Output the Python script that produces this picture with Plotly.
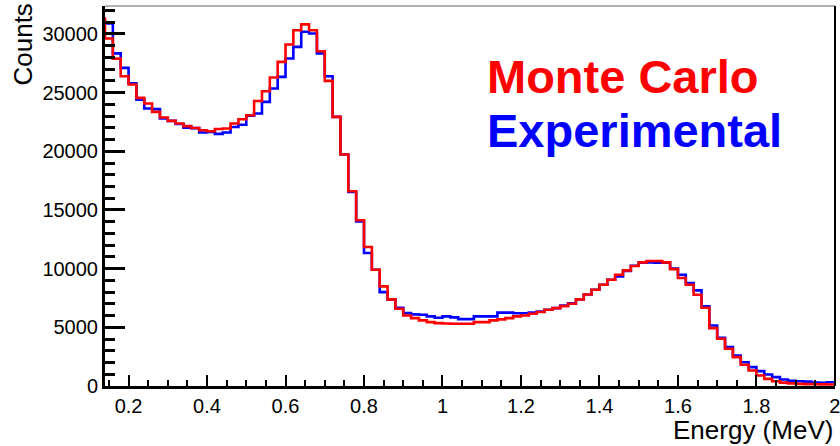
import numpy as np
import plotly.graph_objects as go

# Bin definition: width 0.02 MeV, first (hidden) bin 0.12-0.14, axis shows 0.14-2.0
bin_width = 0.02
bin_edges = np.round(0.12 + bin_width * np.arange(95), 4)

monte_carlo = [
    31300,
    29615, 27900, 26400, 25690, 24550, 24070, 23360, 22880, 22590, 22370,
    22140, 21990, 21790, 21710, 21900, 21940, 22370, 22730, 23070, 24290,
    25120, 26290, 27620, 29100, 30320, 30810, 30320, 28530, 26000, 22930,
    19720, 16600, 14120, 11840, 9910, 8490, 7380, 6580, 6010, 5785,
    5590, 5440, 5360,
    5330, 5300, 5300, 5300, 5445, 5445, 5590, 5680, 5785, 5930,
    6010, 6155, 6300, 6500, 6640, 6810, 7010, 7380, 7800, 8200,
    8630, 9060, 9480, 9850, 10220, 10530, 10650, 10650, 10530, 9960,
    9200, 8630, 7780, 6670, 4930, 4025, 3170, 2460, 1810, 1320,
    895, 610, 410, 290, 220, 180, 160, 150, 140, 130,
]

experimental = [
    31100,
    30900, 28340, 27110, 25800, 24400, 23640, 23590, 22790, 22590, 22320,
    22020, 21970, 21600, 21650, 21480, 21600, 22070, 22260, 23030, 23220,
    24210, 25350, 26340, 27910, 28900, 30180, 30040, 28340, 26400, 22930,
    19720, 16530, 14030, 11330, 9910, 8000, 7380, 6670, 6210, 6100,
    6070, 5930, 5820,
    5930, 5850, 5700, 5700, 5930, 5930, 5930, 6250, 6250, 6200,
    6200, 6250, 6350, 6500, 6640, 6850, 7050, 7380, 7800, 8200,
    8630, 9060, 9340, 9800, 10250, 10500, 10530, 10500, 10500, 10000,
    9480, 8770, 8150, 6800, 5160, 4110, 3310, 2600, 2030, 1610,
    1265, 980, 755, 560, 450, 400, 370, 300, 280, 320,
]

x_tickvals = [0.2, 0.4, 0.6, 0.8, 1.0, 1.2, 1.4, 1.6, 1.8, 2.0]
x_ticktext = ["0.2", "0.4", "0.6", "0.8", "1", "1.2", "1.4", "1.6", "1.8", "2"]
y_tickvals = [0, 5000, 10000, 15000, 20000, 25000, 30000]
y_ticktext = ["0", "5000", "10000", "15000", "20000", "25000", "30000"]

series_names = ["Monte Carlo", "Experimental"]
x_title = "Energy (MeV)"
y_title = "Counts"

FONT = "Liberation Sans, Arial, Helvetica, sans-serif"
RED = "#ff0000"
BLUE = "#0000ff"


def step_xy(vals):
    xs = list(bin_edges)
    ys = list(vals) + [vals[-1]]
    return xs, ys


fig = go.Figure()
xb, yb = step_xy(experimental)
fig.add_trace(go.Scatter(x=xb, y=yb, mode="lines", line=dict(color=BLUE, width=2.6, shape="hv"),
                         name=series_names[1], showlegend=False))
xr, yr = step_xy(monte_carlo)
fig.add_trace(go.Scatter(x=xr, y=yr, mode="lines", line=dict(color=RED, width=2.6, shape="hv"),
                         name=series_names[0], showlegend=False))

fig.update_layout(
    width=840, height=446,
    margin=dict(l=105, r=5, t=6, b=60, autoexpand=False),
    paper_bgcolor="white", plot_bgcolor="white",
    font=dict(family=FONT, color="black", size=20),
    showlegend=False,
)

fig.update_xaxes(
    range=[0.14, 2.0002], showgrid=False, zeroline=False, automargin=False,
    showline=True, linecolor="black", linewidth=3,
    ticks="inside", ticklen=11, tickwidth=2, tickcolor="black",
    tickvals=x_tickvals, ticktext=x_ticktext, ticklabeloverflow="allow",
    tickfont=dict(size=20, family=FONT),
    minor=dict(ticks="inside", ticklen=6, tickwidth=2, tickcolor="black", dtick=0.05, tick0=0, showgrid=False),
)
fig.update_yaxes(
    range=[0, 32380], showgrid=False, zeroline=False, automargin=False,
    showline=True, linecolor="black", linewidth=3,
    ticks="inside", ticklen=20, tickwidth=3, tickcolor="black",
    tickvals=y_tickvals, ticktext=y_ticktext,
    tickfont=dict(size=20, family=FONT),
    minor=dict(ticks="inside", ticklen=10, tickwidth=3, tickcolor="black", dtick=1000, tick0=0, showgrid=False),
)

# frame: thin grey top, black right
fig.add_shape(type="line", xref="paper", yref="paper", x0=0, x1=1, y0=1, y1=1,
              line=dict(color="#999999", width=1.5))
fig.add_shape(type="line", xref="paper", yref="paper", x0=1, x1=1, y0=0, y1=1,
              line=dict(color="black", width=2))

# axis titles
fig.add_annotation(text=x_title, xref="paper", yref="paper", x=1.0, y=-0.115,
                   xanchor="right", yanchor="middle", showarrow=False,
                   font=dict(size=26, family=FONT, color="black"))
fig.add_annotation(text=y_title, xref="paper", yref="paper", x=-0.113, y=1.0,
                   xanchor="center", yanchor="top", textangle=-90, showarrow=False, yshift=4,
                   font=dict(size=26, family=FONT, color="black"))

# legend texts
fig.add_annotation(text="<b>" + series_names[0] + "</b>", xref="paper", yref="paper",
                   x=0.52, y=0.815, xanchor="left", yanchor="middle", showarrow=False,
                   font=dict(size=47, family=FONT, color=RED))
fig.add_annotation(text="<b>" + series_names[1] + "</b>", xref="paper", yref="paper",
                   x=0.52, y=0.672, xanchor="left", yanchor="middle", showarrow=False,
                   font=dict(size=47, family=FONT, color=BLUE))

fig.write_html("out.html", config={"displayModeBar": False},
               post_script="document.body.style.margin='0';document.body.style.padding='0';document.body.style.overflow='hidden';")
